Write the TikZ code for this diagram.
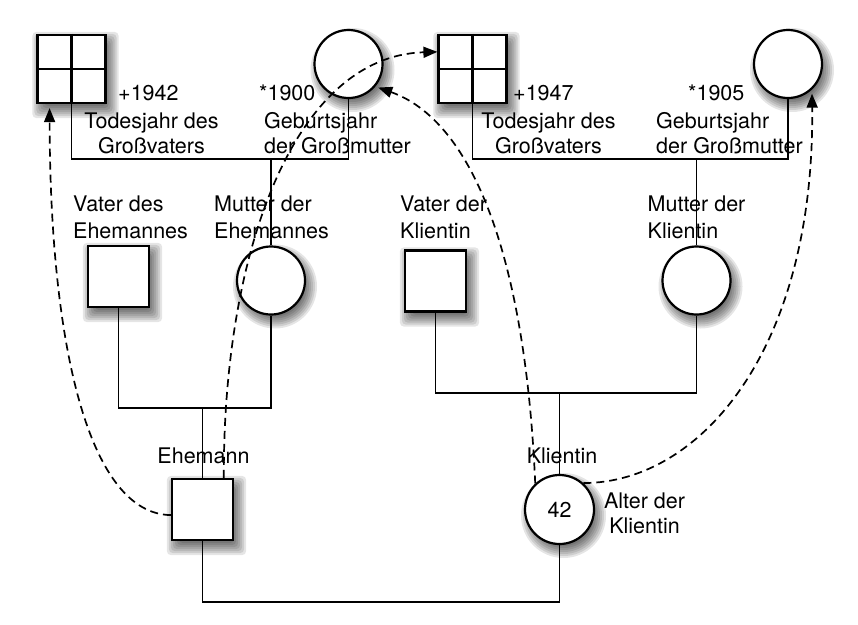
\documentclass[tikz,border=0pt]{standalone}
\usepackage{fontspec}
\setmainfont{TeX Gyre Heros}
\usetikzlibrary{arrows.meta,calc}
\pgfdeclarelayer{bg}
\pgfsetlayers{bg,main}
\begin{document}
\begin{tikzpicture}[x=1pt,y=-1pt,
  lw/.style={line width=1.7pt},
  bw/.style={line width=2.2pt},
  male/.style={rectangle,draw,bw,fill=white,minimum size=#1,inner sep=0pt},
  female/.style={circle,draw,bw,fill=white,minimum size=#1,inner sep=0pt},
  shadowlayer/.style={fill=black,opacity=0.1},
  lbl/.style={font=\fontsize{21.5}{25}\selectfont,inner sep=0pt},
  lblm/.style={font=\fontsize{21.5}{27}\selectfont,inner sep=0pt},
  darrow/.style={line width=1.7pt,dash pattern=on 8pt off 5pt,-{Triangle[length=14pt,width=11pt]}}
]
\begin{pgfonlayer}{bg}
\fill[white] (0,0) rectangle (858,624);
\end{pgfonlayer}
\useasboundingbox (0,0) rectangle (858,624);

% shapes
\node[male=68pt] (gf1) at (71.5,69) {};
\node[female=68pt] (gm1) at (348.5,64) {};
\node[male=68pt] (gf2) at (472.5,69) {};
\node[female=68pt] (gm2) at (788,64) {};
\node[male=61pt] (vh) at (118.5,276.5) {};
\node[female=68pt] (mh) at (271,280.5) {};
\node[male=61pt] (vk) at (435.5,281) {};
\node[female=68pt] (mk) at (696.5,280.5) {};
\node[male=61pt] (eh) at (202.5,509.5) {};
\node[female=69pt,font=\fontsize{21.5}{25}\selectfont] (kl) at (559.5,509.5) {42};

% soft shadows
\begin{pgfonlayer}{bg}
\foreach \n in {gf1,gf2,vh,vk,eh} {
  \foreach \e in {8,6,4,2,0,-2,-4} {
    \fill[shadowlayer,rounded corners=4pt] ($(\n.south west)+(4-\e,6+\e)$) rectangle ($(\n.north east)+(4+\e,6-\e)$);
  }
}
\foreach \n/\r in {gm1/34,gm2/34,mh/34,mk/34,kl/34.5} {
  \foreach \e in {8,6,4,2,0,-2,-4} {
    \fill[shadowlayer] ($(\n.center)+(4,6)$) circle[radius={\r+\e}];
  }
}
\end{pgfonlayer}

% deceased grid
\draw[bw] (gf1.north) -- (gf1.south) (gf1.west) -- (gf1.east);
\draw[bw] (gf2.north) -- (gf2.south) (gf2.west) -- (gf2.east);

% family lines
\draw[lw] (gf1.south) -- (gf1.south |- 0,159) -- (gm1.south |- 0,159) -- (gm1.south);
\draw[lw] (mh.north) -- (mh.north |- 0,159);
\draw[lw] (gf2.south) -- (gf2.south |- 0,159) -- (gm2.south |- 0,159) -- (gm2.south);
\draw[lw] (mk.north) -- (mk.north |- 0,159);
\draw[lw] (vh.south) -- (vh.south |- 0,408) -- (mh.south |- 0,408) -- (mh.south);
\draw[lw] (eh.north) -- (eh.north |- 0,408);
\draw[lw] (vk.south) -- (vk.south |- 0,393) -- (mk.south |- 0,393) -- (mk.south);
\draw[lw] (kl.north) -- (kl.north |- 0,393);
\draw[lw] (eh.south) -- (eh.south |- 0,602) -- (kl.south |- 0,602) -- (kl.south);

% labels
\node[lbl,anchor=base west] (t1) at (118,100) {+1942};
\node[lbl,anchor=base west] (t2) at (259,100) {*1900};
\node[lbl,anchor=base west] (t3) at (513,100) {+1947};
\node[lbl,anchor=base west] (t4) at (688,100) {*1905};
\node[lbl,anchor=north,align=center] (l1) at (151.5,112.5) {Todesjahr des\\Großvaters};
\node[lbl,anchor=north west,align=left] (l2) at (264,112.5) {Geburtsjahr\\der Großmutter};
\node[lbl,anchor=north,align=center] (l3) at (548.5,112.5) {Todesjahr des\\Großvaters};
\node[lbl,anchor=north west,align=left] (l4) at (656,112.5) {Geburtsjahr\\der Großmutter};
\node[lblm,anchor=north west,align=left] (l5) at (73,195.5) {Vater des\\Ehemannes};
\node[lblm,anchor=north west,align=left] (l6) at (214,195.5) {Mutter der\\Ehemannes};
\node[lblm,anchor=north west,align=left] (l7) at (400,195.5) {Vater der\\Klientin};
\node[lblm,anchor=north west,align=left] (l8) at (647.5,195.5) {Mutter der\\Klientin};
\node[lbl,anchor=base] (l9) at (203.5,463) {Ehemann};
\node[lbl,anchor=base] (l10) at (562,463) {Klientin};
\node[lbl,anchor=north,align=center] (l11) at (644.5,492.5) {Alter der\\Klientin};

% dashed arrows
\draw[darrow,shorten >=4pt] (eh.190) .. controls (90,514) and (50,350) .. (gf1.238);
\draw[darrow] (eh.56) .. controls (223,250) and (295,56) .. (gf2.154);
\draw[darrow,shorten >=3pt] (kl.133) .. controls (525,250) and (470,120) .. (gm1.-40);
\draw[darrow,shorten >=4pt] (kl.48) .. controls (700,483) and (815,350) .. (gm2.-47);
\end{tikzpicture}
\end{document}
